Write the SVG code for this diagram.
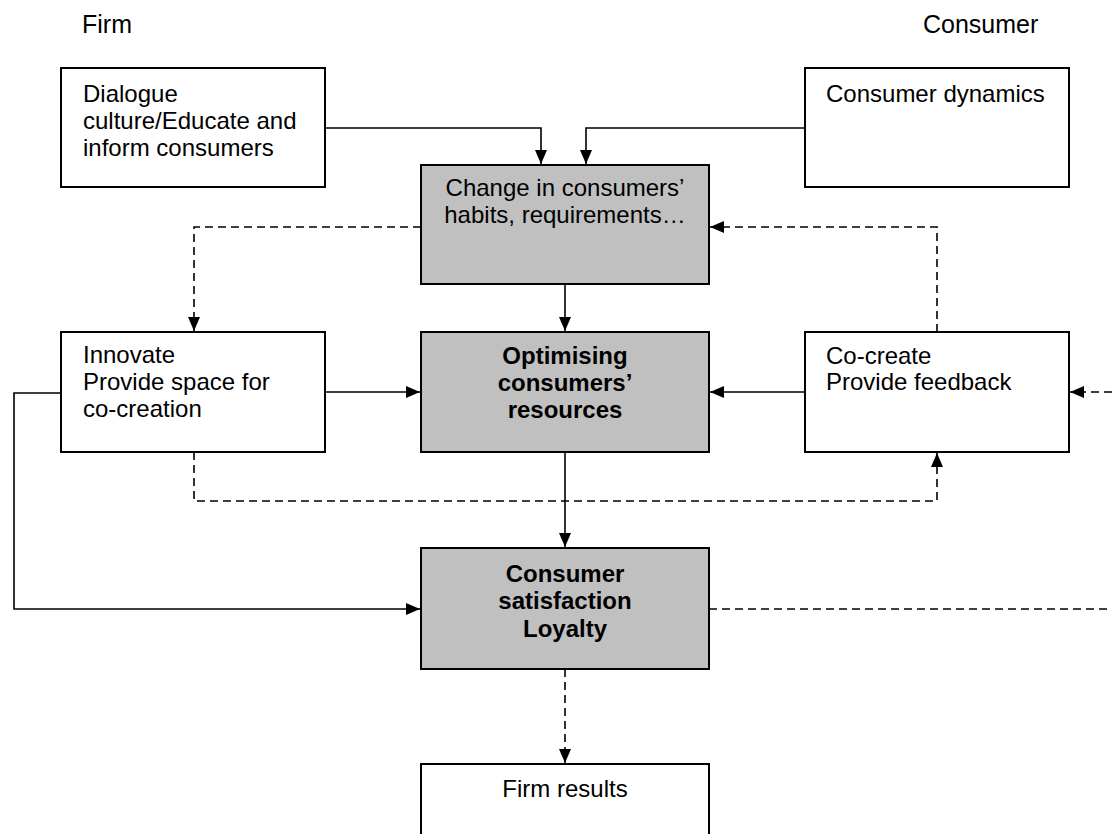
<svg xmlns="http://www.w3.org/2000/svg" width="1112" height="834" viewBox="0 0 1112 834">
<defs>
<marker id="ah" markerUnits="userSpaceOnUse" markerWidth="14" markerHeight="12" viewBox="0 0 14 12" refX="14" refY="6" orient="auto">
<path d="M0,0 L14,6 L0,12 Z" fill="#000"/>
</marker>
<style>
.box{fill:#fff;stroke:#000;stroke-width:2}
.gbox{fill:#c0c0c0;stroke:#000;stroke-width:2}
.t{font-family:"Liberation Sans",Arial,sans-serif;font-size:24px;fill:#000}
.h{font-size:25px}
.b{font-weight:bold;text-anchor:middle}
.c{text-anchor:middle}
.ln{fill:none;stroke:#000;stroke-width:1.6}
.ds{fill:none;stroke:#000;stroke-width:1.6;stroke-dasharray:8,5}
</style>
</defs>
<rect width="1112" height="834" fill="#fff"/>
<text class="t h" x="82" y="33">Firm</text>
<text class="t h" x="923" y="33">Consumer</text>
<g id="connectors">
<path class="ln" d="M325,128 H541 V164" marker-end="url(#ah)"/>
<path class="ln" d="M805,128 H586 V164" marker-end="url(#ah)"/>
<path class="ds" d="M421,227 H194 V331" marker-end="url(#ah)"/>
<path class="ds" d="M937,332 V227 H710" marker-end="url(#ah)"/>
<path class="ln" d="M565,284 V331" marker-end="url(#ah)"/>
<path class="ln" d="M325,392 H420" marker-end="url(#ah)"/>
<path class="ln" d="M805,392 H710" marker-end="url(#ah)"/>
<path class="ds" d="M1112,392 H1070" marker-end="url(#ah)"/>
<path class="ds" d="M194,452 V501 H937 V453" marker-end="url(#ah)"/>
<path class="ln" d="M565,452 V547" marker-end="url(#ah)"/>
<path class="ln" d="M61,393 H14 V609 H420" marker-end="url(#ah)"/>
<path class="ds" d="M709,609 H1112"/>
<path class="ds" d="M565,669 V763" marker-end="url(#ah)"/>
</g>
<g id="dialogue">
<rect class="box" x="61" y="68" width="264" height="119"/>
<text class="t" x="83" y="102">Dialogue</text>
<text class="t" x="83" y="129">culture/Educate and</text>
<text class="t" x="83" y="156">inform consumers</text>
</g>
<g id="consumer-dynamics">
<rect class="box" x="805" y="68" width="264" height="119"/>
<text class="t" x="826" y="102">Consumer dynamics</text>
</g>
<g id="change">
<rect class="gbox" x="421" y="165" width="288" height="119"/>
<text class="t c" x="565" y="196">Change in consumers’</text>
<text class="t c" x="565" y="223">habits, requirements…</text>
</g>
<g id="innovate">
<rect class="box" x="61" y="332" width="264" height="120"/>
<text class="t" x="83" y="363">Innovate</text>
<text class="t" x="83" y="390">Provide space for</text>
<text class="t" x="83" y="417">co-creation</text>
</g>
<g id="optimising">
<rect class="gbox" x="421" y="332" width="288" height="120"/>
<text class="t b" x="565" y="364">Optimising</text>
<text class="t b" x="565" y="391">consumers’</text>
<text class="t b" x="565" y="418">resources</text>
</g>
<g id="cocreate">
<rect class="box" x="805" y="332" width="264" height="120"/>
<text class="t" x="826" y="364">Co-create</text>
<text class="t" x="826" y="390">Provide feedback</text>
</g>
<g id="satisfaction">
<rect class="gbox" x="421" y="548" width="288" height="121"/>
<text class="t b" x="565" y="582">Consumer</text>
<text class="t b" x="565" y="609">satisfaction</text>
<text class="t b" x="565" y="637">Loyalty</text>
</g>
<g id="firm-results">
<rect class="box" x="421" y="764" width="288" height="90"/>
<text class="t c" x="565" y="797">Firm results</text>
</g>
</svg>
